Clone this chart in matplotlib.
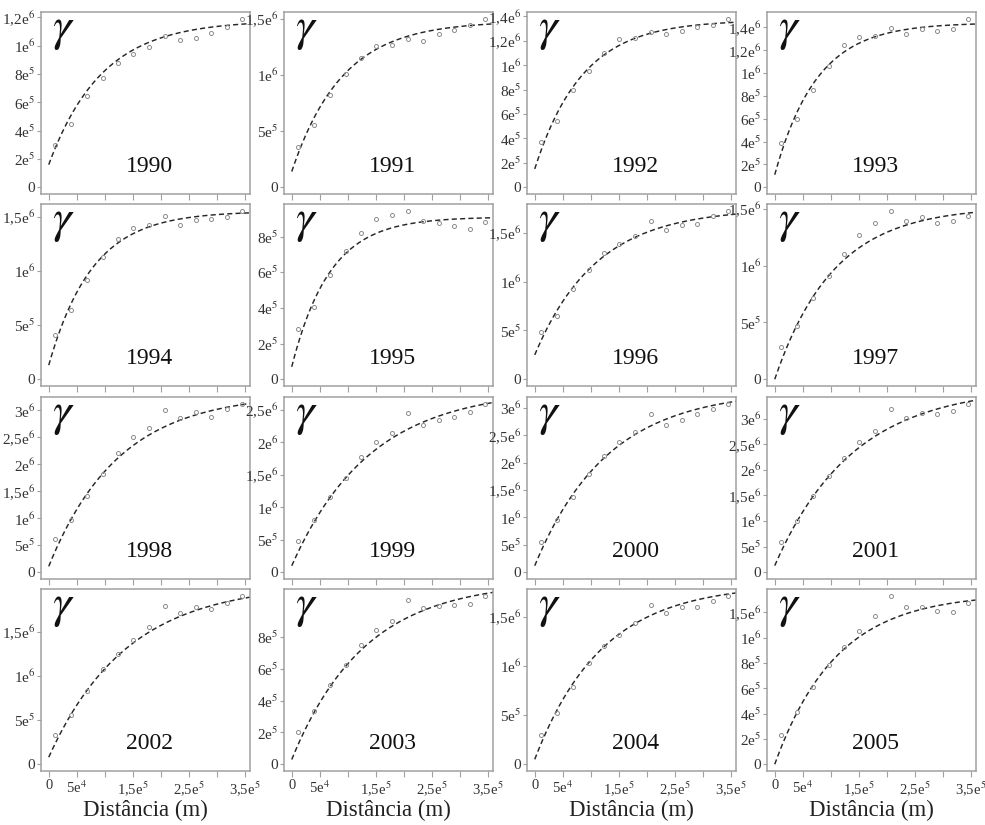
import numpy as np
import matplotlib
matplotlib.use('Agg')
import matplotlib.pyplot as plt
from matplotlib.ticker import MultipleLocator, FixedLocator, FuncFormatter

plt.rcParams['font.family'] = ['Liberation Serif', 'DejaVu Serif']
plt.rcParams['mathtext.fontset'] = 'stix'

years = list(range(1990, 2006))

# lag distances (m) of the experimental semivariogram
lags = [12e3, 40e3, 68e3, 96e3, 124e3, 151e3, 179e3, 207e3, 234e3, 262e3, 290e3, 317e3, 345e3]

# experimental semivariance (x 1000), one row per year
semivar = [
    [302, 449, 645, 774, 878, 945, 988, 1066, 1040, 1054, 1092, 1132, 1191],
    [356, 558, 819, 1012, 1151, 1255, 1267, 1323, 1306, 1365, 1404, 1442, 1501],
    [369, 544, 800, 955, 1104, 1219, 1225, 1271, 1252, 1284, 1314, 1327, 1381],
    [386, 597, 849, 1058, 1241, 1319, 1328, 1397, 1342, 1386, 1371, 1386, 1475],
    [413, 643, 918, 1126, 1292, 1393, 1423, 1506, 1423, 1469, 1478, 1500, 1555],
    [283, 408, 582, 718, 819, 899, 923, 945, 886, 876, 862, 843, 880],
    [489, 651, 923, 1116, 1289, 1388, 1473, 1625, 1534, 1578, 1595, 1670, 1727],
    [283, 472, 714, 909, 1104, 1267, 1375, 1483, 1389, 1427, 1375, 1395, 1433],
    [612, 967, 1408, 1825, 2204, 2510, 2682, 3006, 2853, 2976, 2878, 3019, 3123],
    [473, 798, 1153, 1448, 1778, 2007, 2144, 2449, 2261, 2348, 2388, 2465, 2591],
    [560, 946, 1373, 1789, 2127, 2380, 2548, 2892, 2681, 2771, 2880, 2982, 3072],
    [600, 1000, 1484, 1871, 2226, 2548, 2761, 3194, 3013, 3116, 3084, 3148, 3290],
    [336, 553, 832, 1072, 1252, 1405, 1546, 1786, 1710, 1775, 1760, 1824, 1905],
    [202, 333, 500, 625, 746, 844, 900, 1031, 979, 996, 1000, 1004, 1058],
    [300, 518, 784, 1030, 1203, 1313, 1439, 1620, 1541, 1596, 1602, 1654, 1712],
    [232, 414, 607, 786, 923, 1050, 1174, 1332, 1240, 1245, 1214, 1201, 1272],
]

# fitted exponential model: nugget, partial sill (x 1000) and range (km)
nugget = [160, 140, 150, 110, 130, 70, 250, 0, 110, 100, 120, 130, 80, 30, 50, 0]
psill = [1020, 1340, 1220, 1330, 1420, 840, 1500, 1520, 3200, 2720, 3200, 3500, 1960, 1120, 1780, 1350]
arange = [95, 90, 85, 75, 78, 68, 110, 105, 125, 140, 130, 140, 140, 130, 120, 110]

# y ticks per panel: spacing and last labelled tick
ystep = [2e5, 5e5, 2e5, 2e5, 5e5, 2e5, 5e5, 5e5, 5e5, 5e5, 5e5, 5e5, 5e5, 2e5, 5e5, 2e5]
ylast = [1.2e6, 1.5e6, 1.4e6, 1.4e6, 1.5e6, 8e5, 1.5e6, 1.5e6, 3e6, 2.5e6, 3e6, 3e6, 1.5e6, 8e5, 1.5e6, 1.2e6]
# label printed differently in the source figure (panel index -> tick -> text)
ylabel_override = {15: {1.2e6: '1,5e$^{6}$'}}

xlabeled = [0, 5e4, 1.5e5, 2.5e5, 3.5e5]


def sci_label(v):
    if abs(v) < 1e-6:
        return '0'
    e = int(np.floor(np.log10(abs(v)) + 1e-9))
    m = round(v / 10 ** e, 2)
    ms = ('%g' % m).replace('.', ',')
    return ms + 'e$^{%d}$' % e


def xfmt(v, pos):
    for t in xlabeled:
        if abs(v - t) < 1:
            return sci_label(v)
    return ''


def make_yfmt(idx):
    fix = ylabel_override.get(idx, {})

    def f(v, pos):
        for t, s in fix.items():
            if abs(v - t) < 1:
                return s
        return sci_label(v)
    return f


W, H = 985, 825
fig = plt.figure(figsize=(W / 100, H / 100), dpi=100)

lefts = [41, 284, 527, 767]
tops = [12, 204, 397, 589]
pw, ph = 209, 182

frame = '#a0a0a0'
xmax = max(lags)

for i, yr in enumerate(years):
    r, c = divmod(i, 4)
    ax = fig.add_axes([lefts[c] / W, 1 - (tops[r] + ph) / H, pw / W, ph / H])
    vals = np.array(semivar[i]) * 1e3
    h = np.linspace(0, 1.04 * xmax, 300)
    model = nugget[i] * 1e3 + psill[i] * 1e3 * (1 - np.exp(-h / (arange[i] * 1e3)))
    ax.plot(h, model, color='#262626', lw=1.05, linestyle=(0, (3.5, 2.2)))
    ax.plot(lags, vals, 'o', mfc='none', mec='#8c8c8c', ms=2.9, mew=0.7)

    ytop = vals.max()
    ax.set_ylim(-0.04 * ytop, 1.04 * ytop)
    ax.set_xlim(-0.04 * xmax, 1.04 * xmax)

    ax.xaxis.set_major_locator(MultipleLocator(5e4))
    ax.yaxis.set_major_locator(FixedLocator(np.arange(0, ylast[i] + 1, ystep[i])))
    ax.yaxis.set_major_formatter(FuncFormatter(make_yfmt(i)))
    if r == 3:
        ax.xaxis.set_major_formatter(FuncFormatter(xfmt))
        ax.set_xlabel('Distância (m)', fontsize=16.5, color='#222222', labelpad=1)
    else:
        ax.set_xticklabels([])

    ax.tick_params(axis='both', direction='out', length=4, width=0.8,
                   color=frame, labelcolor='#333333', labelsize=11)
    ax.tick_params(axis='y', length=3, pad=1)
    ax.tick_params(axis='x', pad=2, labelsize=10.5)
    for sp in ax.spines.values():
        sp.set_color(frame)
        sp.set_linewidth(1.1)

    ax.text(0.105, 0.895, r'$\gamma$', transform=ax.transAxes, fontsize=34,
            ha='center', va='center', color='#111111')
    ax.text(0.52, 0.15, str(yr), transform=ax.transAxes, fontsize=17,
            ha='center', va='center', color='#111111')

fig.savefig('out.png', dpi=100)
